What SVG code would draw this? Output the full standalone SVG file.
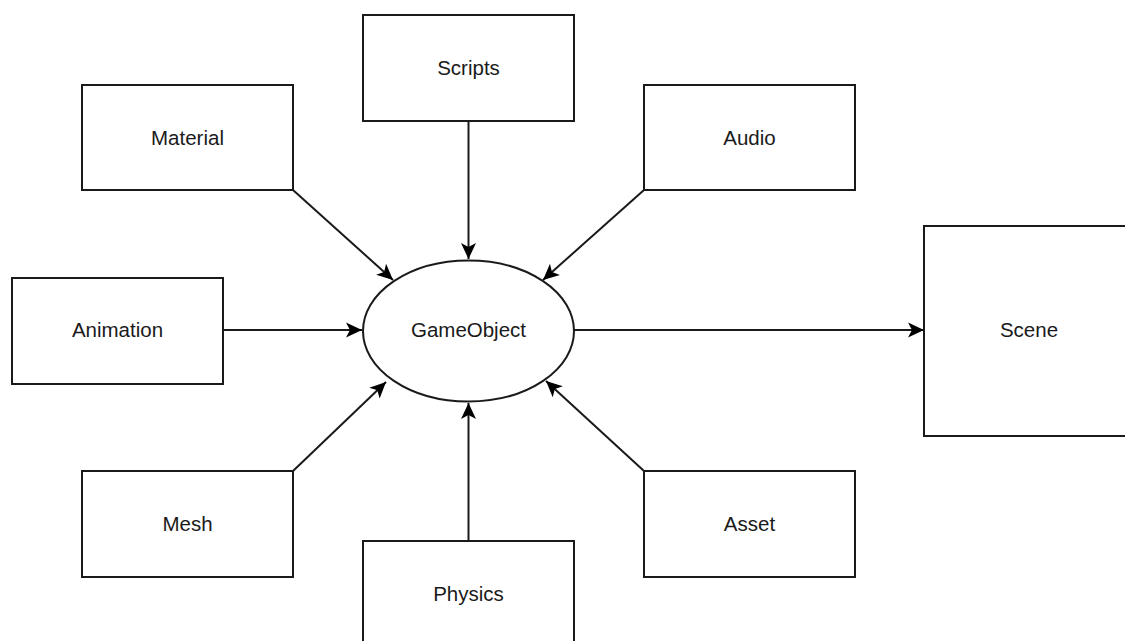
<svg xmlns="http://www.w3.org/2000/svg" width="1125" height="641" viewBox="0 0 1125 641">
<style>
.box{fill:#fff;stroke:#1a1a1a;stroke-width:2}
.lbl{font-family:"Liberation Sans",Arial,sans-serif;font-size:20.5px;fill:#1a1a1a;text-anchor:middle}
.edge{fill:none;stroke:#1a1a1a;stroke-width:2}
</style>
<defs>
<marker id="arr" viewBox="-17 -8 18 16" refX="0" refY="0" markerWidth="18" markerHeight="16" markerUnits="userSpaceOnUse" orient="auto">
<path d="M0,0 L-16,-7.5 L-12,0 L-16,7.5 Z" fill="#000"/>
</marker>
</defs>
<rect width="1125" height="641" fill="#fff"/>
<g id="connectors">
<line class="edge" x1="293" y1="190" x2="393" y2="280" marker-end="url(#arr)"/>
<line class="edge" x1="468.5" y1="121" x2="468.5" y2="259" marker-end="url(#arr)"/>
<line class="edge" x1="644" y1="190" x2="543" y2="280" marker-end="url(#arr)"/>
<line class="edge" x1="223" y1="330" x2="362" y2="330" marker-end="url(#arr)"/>
<line class="edge" x1="293" y1="471" x2="386" y2="382" marker-end="url(#arr)"/>
<line class="edge" x1="468.5" y1="541" x2="468.5" y2="403" marker-end="url(#arr)"/>
<line class="edge" x1="644" y1="471" x2="546" y2="381" marker-end="url(#arr)"/>
<line class="edge" x1="574" y1="330" x2="924" y2="330" marker-end="url(#arr)"/>
</g>
<g id="material"><rect class="box" x="82" y="85" width="211" height="105"/><text class="lbl" x="187.5" y="145">Material</text></g>
<g id="scripts"><rect class="box" x="363" y="15" width="211" height="106"/><text class="lbl" x="468.5" y="75">Scripts</text></g>
<g id="audio"><rect class="box" x="644" y="85" width="211" height="105"/><text class="lbl" x="749.5" y="145">Audio</text></g>
<g id="animation"><rect class="box" x="12" y="278" width="211" height="106"/><text class="lbl" x="117.5" y="337">Animation</text></g>
<g id="gameobject"><ellipse class="box" cx="468.5" cy="331" rx="105.5" ry="70.5"/><text class="lbl" x="468.5" y="337">GameObject</text></g>
<g id="scene"><rect class="box" x="924" y="226" width="220" height="210"/><text class="lbl" x="1029" y="337">Scene</text></g>
<g id="mesh"><rect class="box" x="82" y="471" width="211" height="106"/><text class="lbl" x="187.5" y="531">Mesh</text></g>
<g id="physics"><rect class="box" x="363" y="541" width="211" height="120"/><text class="lbl" x="468.5" y="601">Physics</text></g>
<g id="asset"><rect class="box" x="644" y="471" width="211" height="106"/><text class="lbl" x="749.5" y="531">Asset</text></g>
</svg>
